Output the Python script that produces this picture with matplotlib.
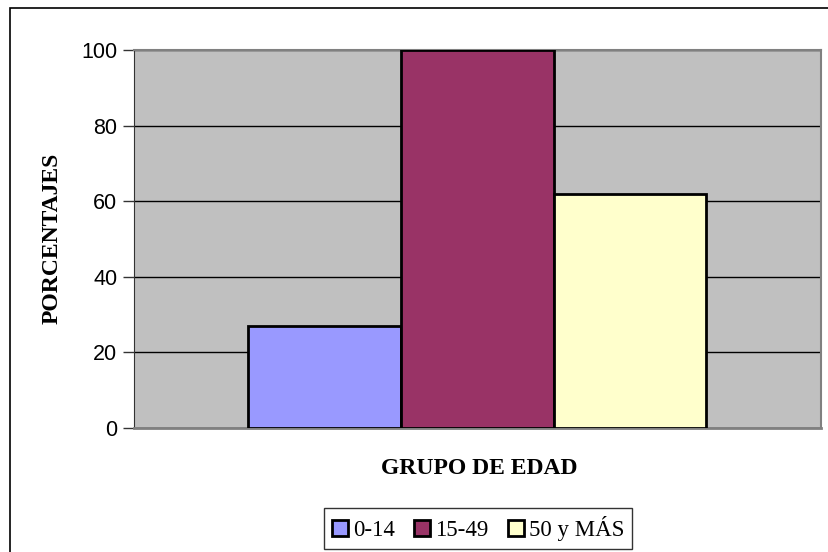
import matplotlib
matplotlib.use('Agg')
import matplotlib.pyplot as plt
from matplotlib.patches import Rectangle, Patch

# data
grupos = ['0-14', '15-49', '50 y MÁS']
valores = [27, 100, 62]
colores = ['#9999FF', '#993366', '#FFFFCC']
yticks = [0, 20, 40, 60, 80, 100]

fig = plt.figure(figsize=(8.29, 5.52), dpi=100)
ax = fig.add_axes([134 / 829, 1 - 428 / 552, 687 / 829, 378 / 552])
ax.set_facecolor('#C0C0C0')

x = list(range(len(grupos)))
ax.bar(x, valores, width=1.0, color=colores, edgecolor='black', linewidth=2, zorder=3)

ax.set_xlim(-1.25, 3.25)
ax.set_ylim(0, 100)
ax.set_yticks(yticks)
ax.set_xticks([])
ax.yaxis.grid(True, color='black', linewidth=1, zorder=0)
ax.tick_params(axis='y', direction='out', length=8, width=1, color='#333333',
               labelsize=15.5, pad=4)
for lab in ax.get_yticklabels():
    lab.set_fontfamily('Liberation Sans')

ax.spines['left'].set_color('#333333')
ax.spines['bottom'].set_color('#808080')
ax.spines['bottom'].set_linewidth(2)
ax.spines['top'].set_color('#808080')
ax.spines['right'].set_color('#808080')
ax.spines['top'].set_linewidth(1.5)
ax.spines['right'].set_linewidth(1.5)

fig.text(52 / 829, 1 - 238 / 552, 'PORCENTAJES', rotation=90, ha='center', va='center',
         fontsize=17, fontweight='bold', family='Liberation Serif')
fig.text(479 / 829, 1 - 468 / 552, 'GRUPO DE EDAD', ha='center', va='center',
         fontsize=17, fontweight='bold', family='Liberation Serif')

handles = [Patch(facecolor=c, edgecolor='black', linewidth=2) for c in colores]
leg = fig.legend(handles, grupos, loc='center', bbox_to_anchor=(478 / 829, 1 - 528.5 / 552),
                 ncol=3, frameon=True, fancybox=False, edgecolor='black',
                 prop={'family': 'Liberation Serif', 'size': 16.5},
                 handlelength=0.7, handleheight=0.65, handletextpad=0.22,
                 columnspacing=0.85, borderpad=0.35, borderaxespad=0)
leg.get_frame().set_linewidth(1)

# outer chart border
fig.patches.append(Rectangle((10 / 829, -0.05), 1.1, 1 - 8 / 552 + 0.05,
                             transform=fig.transFigure, fill=False,
                             edgecolor='black', linewidth=1.2))

fig.savefig('out.png', dpi=100)
